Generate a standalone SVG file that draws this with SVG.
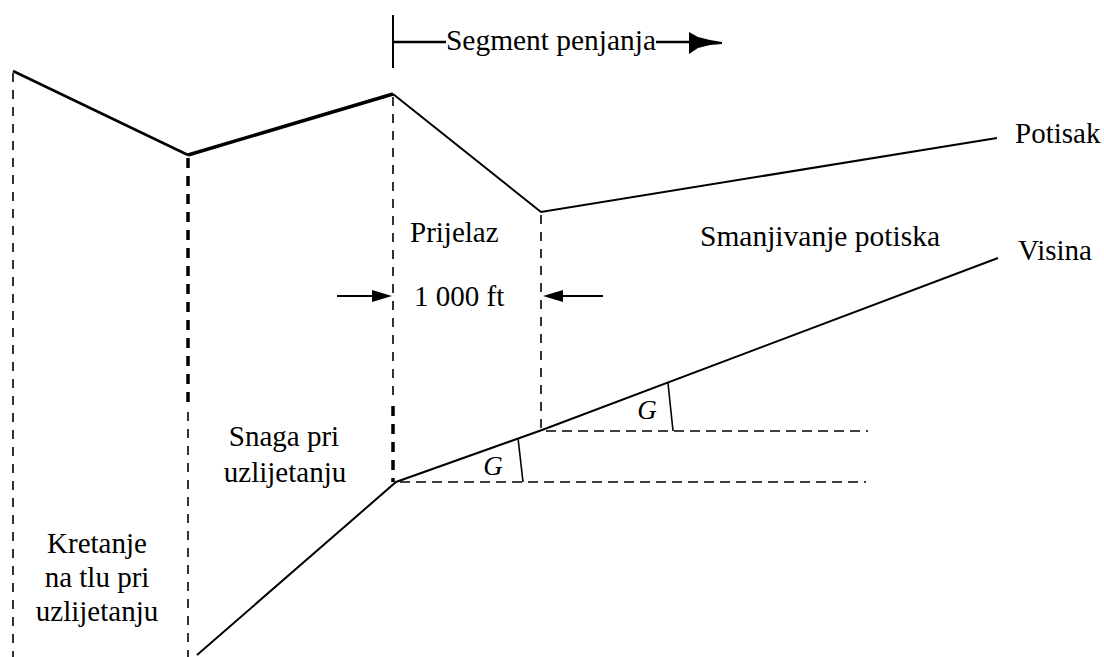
<svg xmlns="http://www.w3.org/2000/svg" width="1104" height="657" viewBox="0 0 1104 657">
<style>
.t{font-family:"Liberation Serif","Times New Roman",serif;font-size:29px;fill:#000}
.g{font-family:"Liberation Serif","Times New Roman",serif;font-size:27px;font-style:italic;fill:#000}
.s{fill:none;stroke:#000;stroke-width:2}
.d{fill:none;stroke:#000;stroke-width:1.6;stroke-dasharray:9 8}
.dt{fill:none;stroke:#000;stroke-width:3.5;stroke-dasharray:10 8}
.h{fill:none;stroke:#000;stroke-width:1.6;stroke-dasharray:10 6}
</style>
<rect width="1104" height="657" fill="#fff"/>
<g id="connectors">
  <polyline class="s" points="13,71 188,155" style="stroke-width:2.5"/>
  <polyline class="s" points="188,155 393,94" style="stroke-width:3.5"/>
  <polyline class="s" points="393,94 541,212 997,138"/>
  <polyline class="s" points="197,655 396,482 542,430 998,258"/>
  <line class="d" x1="13" y1="73" x2="13" y2="657"/>
  <line class="dt" x1="188" y1="158" x2="188" y2="407"/>
  <line class="d" x1="188" y1="412" x2="188" y2="657"/>
  <line class="d" x1="393" y1="97" x2="393" y2="403"/>
  <line class="dt" x1="393" y1="406" x2="393" y2="482"/>
  <line class="d" x1="541" y1="215" x2="541" y2="428"/>
  <line class="h" x1="400" y1="482" x2="866" y2="482"/>
  <line class="h" x1="546" y1="431" x2="868" y2="431"/>
  <line class="s" x1="518" y1="438" x2="523" y2="482" style="stroke-width:1.6"/>
  <line class="s" x1="668" y1="383" x2="673" y2="431" style="stroke-width:1.6"/>
  <line class="s" x1="393" y1="15" x2="393" y2="68"/>
  <line class="s" x1="393" y1="42" x2="446" y2="42" style="stroke-width:2.5"/>
  <line class="s" x1="656" y1="42" x2="692" y2="42" style="stroke-width:2.5"/>
  <polygon points="689,32 698,37 710,40 722,42 722,44 710,45 698,48 689,54" fill="#000"/>
  <line class="s" x1="337" y1="296" x2="375" y2="296"/>
  <polygon points="372,290 392,296 372,302" fill="#000"/>
  <line class="s" x1="560" y1="296" x2="603" y2="296"/>
  <polygon points="563,290 543,296 563,302" fill="#000"/>
</g>
<g id="label-segment"><text class="t" x="446" y="50" textLength="210" lengthAdjust="spacingAndGlyphs">Segment penjanja</text></g>
<g id="label-potisak"><text class="t" x="1015" y="143">Potisak</text></g>
<g id="label-visina"><text class="t" x="1018" y="260">Visina</text></g>
<g id="label-smanjivanje"><text class="t" x="700" y="246" textLength="240" lengthAdjust="spacingAndGlyphs">Smanjivanje potiska</text></g>
<g id="label-prijelaz"><text class="t" x="410" y="242">Prijelaz</text></g>
<g id="label-1000"><text class="t" x="414" y="306">1 000 ft</text></g>
<g id="label-snaga"><text class="t" x="284" y="446" text-anchor="middle">Snaga pri</text><text class="t" x="285" y="482" text-anchor="middle">uzlijetanju</text></g>
<g id="label-kretanje"><text class="t" x="97" y="553" text-anchor="middle">Kretanje</text><text class="t" x="97" y="587" text-anchor="middle">na tlu pri</text><text class="t" x="97" y="621" text-anchor="middle">uzlijetanju</text></g>
<g id="label-g1"><text class="g" x="493" y="475" text-anchor="middle">G</text></g>
<g id="label-g2"><text class="g" x="647" y="419" text-anchor="middle">G</text></g>
</svg>
